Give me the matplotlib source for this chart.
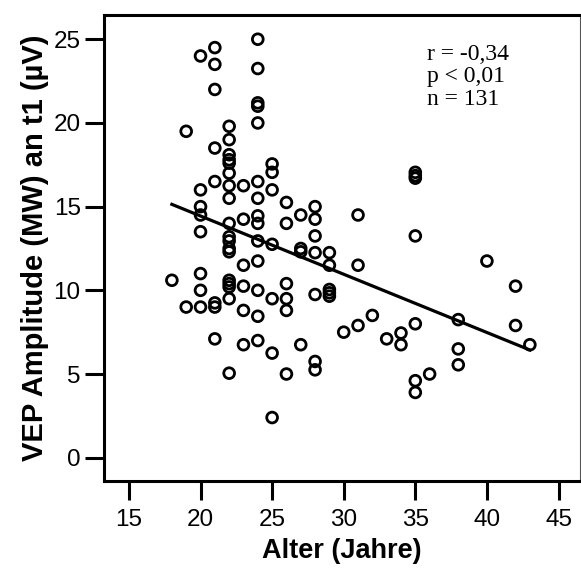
import numpy as np
import matplotlib
matplotlib.use("Agg")
from matplotlib import pyplot as plt

# age (years) and VEP amplitude (MW) at t1 (µV)
age = [18,
       19, 19,
       20, 20, 20, 20, 20, 20, 20, 20,
       21, 21, 21, 21, 21, 21, 21, 21,
       22, 22, 22, 22, 22, 22, 22, 22, 22, 22, 22, 22, 22, 22, 22, 22, 22, 22,
       23, 23, 23, 23, 23, 23,
       24, 24, 24, 24, 24, 24, 24, 24, 24, 24, 24, 24, 24, 24,
       25, 25, 25, 25, 25, 25, 25,
       26, 26, 26, 26, 26, 26,
       27, 27, 27, 27,
       28, 28, 28, 28, 28, 28, 28,
       29, 29, 29, 29, 29,
       30,
       31, 31, 31,
       32,
       33,
       34, 34,
       35, 35, 35, 35, 35, 35, 35,
       36,
       38, 38, 38,
       40,
       42, 42,
       43]
amplitude = [10.6,
             19.5, 9.0,
             24.0, 16.0, 15.0, 14.5, 13.5, 11.0, 10.0, 9.0,
             24.5, 23.5, 22.0, 18.5, 16.5, 9.25, 9.0, 7.1,
             19.8, 19.0, 18.1, 17.8, 17.6, 17.0, 16.25, 15.5, 14.0, 13.2, 12.95, 12.5, 12.3, 10.6, 10.4, 10.2, 9.5, 5.05,
             16.25, 14.25, 11.5, 10.25, 8.8, 6.75,
             25.0, 23.25, 21.2, 21.0, 20.0, 16.5, 15.5, 14.45, 14.0, 12.95, 11.75, 10.0, 8.45, 7.0,
             17.55, 17.05, 16.0, 12.75, 9.5, 6.25, 2.4,
             15.25, 14.0, 10.4, 9.5, 8.8, 5.0,
             14.5, 12.5, 12.3, 6.75,
             15.0, 14.25, 13.25, 12.25, 9.75, 5.75, 5.25,
             12.25, 11.5, 10.05, 9.85, 9.65,
             7.5,
             14.5, 11.5, 7.9,
             8.5,
             7.1,
             7.45, 6.75,
             17.05, 16.85, 16.7, 13.25, 8.0, 4.6, 3.9,
             5.0,
             8.25, 6.5, 5.55,
             11.75,
             10.25, 7.9,
             6.75]

# regression line as printed in the figure
fit_slope = -0.348
fit_intercept = 21.4
stats_text = "r = -0,34\np < 0,01\nn = 131"

fig = plt.figure(figsize=(5.81, 5.73), dpi=100)
ax = fig.add_axes([0.1795, 0.1606, 0.8185, 0.8127])

ax.scatter(age, amplitude, s=60, facecolors='none', edgecolors='black', linewidths=2.0, zorder=3)

xfit = np.array([min(age), max(age)])
ax.plot(xfit, fit_intercept + fit_slope * xfit, color='black', linewidth=2.3, zorder=2)

ax.set_xlim(13.28, 46.49)
ax.set_ylim(-1.39, 26.43)
ax.set_xticks([15, 20, 25, 30, 35, 40, 45])
ax.set_yticks([0, 5, 10, 15, 20, 25])

for side in ['left', 'bottom', 'top']:
    ax.spines[side].set_linewidth(2.2)
ax.spines['right'].set_linewidth(0.8)
ax.spines['right'].set_color('#555555')

ax.tick_params(axis='both', length=14, width=2.2, labelsize=17.5, direction='out', pad=3)
ax.tick_params(axis='x', pad=6)
for lab in ax.get_xticklabels() + ax.get_yticklabels():
    lab.set_fontfamily('Liberation Sans')

ax.set_xlabel('Alter (Jahre)', fontsize=19.5, fontweight='bold', family='Liberation Sans', labelpad=5)
ax.set_ylabel('VEP Amplitude (MW) an t1 (µV)', fontsize=21, fontweight='bold', family='Liberation Sans', labelpad=3)

ax.text(0.678, 0.938, stats_text, transform=ax.transAxes, ha='left', va='top',
        fontsize=17, family='Liberation Serif', linespacing=1.08)

fig.savefig('out.png', dpi=100)
